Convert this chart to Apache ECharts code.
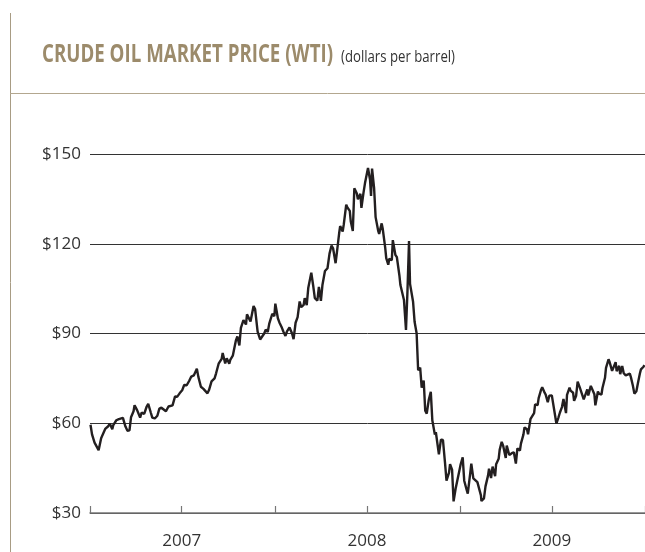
<!DOCTYPE html>
<html>
<head>
<meta charset="utf-8">
<script src="https://cdn.jsdelivr.net/npm/echarts@6/dist/echarts.min.js"></script>
<style>
  html, body { margin: 0; padding: 0; background: #fff; }
  #main { width: 645px; height: 552px; }
</style>
</head>
<body>
<div id="main"></div>
<script>
// WTI spot (date, $/bbl)
let dates = [
  '2007-01-02','2007-01-05','2007-01-10','2007-01-12','2007-01-18','2007-01-23','2007-01-26','2007-01-31',
  '2007-02-06','2007-02-09','2007-02-14','2007-02-16','2007-02-22','2007-02-27','2007-03-02','2007-03-07',
  '2007-03-12','2007-03-16','2007-03-20','2007-03-23','2007-03-28','2007-03-30','2007-04-04','2007-04-10',
  '2007-04-13','2007-04-18','2007-04-23','2007-04-26','2007-05-01','2007-05-04','2007-05-09','2007-05-14',
  '2007-05-18','2007-05-22','2007-05-25','2007-05-31','2007-06-05','2007-06-08','2007-06-13','2007-06-18',
  '2007-06-22','2007-06-27','2007-07-02','2007-07-06','2007-07-11','2007-07-16','2007-07-20','2007-07-25',
  '2007-07-31','2007-08-03','2007-08-08','2007-08-13','2007-08-16','2007-08-21','2007-08-24','2007-08-29',
  '2007-09-04','2007-09-07','2007-09-12','2007-09-18','2007-09-20','2007-09-25','2007-09-28','2007-10-03',
  '2007-10-05','2007-10-10','2007-10-16','2007-10-19','2007-10-23','2007-10-26','2007-10-31','2007-11-05',
  '2007-11-07','2007-11-09','2007-11-14','2007-11-20','2007-11-23','2007-11-28','2007-12-03','2007-12-06',
  '2007-12-11','2007-12-14','2007-12-18','2007-12-21','2007-12-27','2007-12-31',
  '2008-01-02','2008-01-07','2008-01-10','2008-01-15','2008-01-18','2008-01-22','2008-01-25','2008-01-30',
  '2008-02-04','2008-02-07','2008-02-11','2008-02-15','2008-02-19','2008-02-22','2008-02-27','2008-02-29',
  '2008-03-04','2008-03-07','2008-03-13','2008-03-17','2008-03-20','2008-03-25','2008-03-28','2008-04-01',
  '2008-04-04','2008-04-09','2008-04-14','2008-04-18','2008-04-22','2008-04-25','2008-04-30','2008-05-02',
  '2008-05-07','2008-05-09','2008-05-14','2008-05-16','2008-05-21','2008-05-23','2008-05-28','2008-05-30',
  '2008-06-03','2008-06-06','2008-06-11','2008-06-13','2008-06-18','2008-06-20','2008-06-24','2008-06-27',
  '2008-07-03','2008-07-07','2008-07-09','2008-07-11','2008-07-15','2008-07-18','2008-07-23','2008-07-25',
  '2008-07-30','2008-08-01','2008-08-06','2008-08-08','2008-08-12','2008-08-14','2008-08-19','2008-08-21',
  '2008-08-26','2008-08-29','2008-09-03','2008-09-05','2008-09-10','2008-09-12','2008-09-16','2008-09-19',
  '2008-09-22','2008-09-24','2008-09-26','2008-09-30','2008-10-03','2008-10-07','2008-10-10','2008-10-14',
  '2008-10-17','2008-10-21','2008-10-24','2008-10-27','2008-10-31','2008-11-04','2008-11-07','2008-11-12',
  '2008-11-14','2008-11-20','2008-11-24','2008-11-28','2008-12-02','2008-12-05','2008-12-10','2008-12-12',
  '2008-12-16','2008-12-19','2008-12-23','2008-12-26','2008-12-31',
  '2009-01-02','2009-01-06','2009-01-09','2009-01-14','2009-01-16','2009-01-21','2009-01-23','2009-01-27',
  '2009-01-30','2009-02-04','2009-02-06','2009-02-11','2009-02-12','2009-02-17','2009-02-20','2009-02-25',
  '2009-02-27','2009-03-03','2009-03-06','2009-03-11','2009-03-13','2009-03-18','2009-03-20','2009-03-24',
  '2009-03-27','2009-04-01','2009-04-03','2009-04-08','2009-04-13','2009-04-17','2009-04-21','2009-04-24',
  '2009-04-29','2009-05-01','2009-05-06','2009-05-08','2009-05-13','2009-05-15','2009-05-20','2009-05-22',
  '2009-05-27','2009-05-29','2009-06-03','2009-06-05','2009-06-10','2009-06-12','2009-06-16','2009-06-19',
  '2009-06-23','2009-06-26','2009-07-01','2009-07-06','2009-07-10','2009-07-14','2009-07-17','2009-07-21',
  '2009-07-24','2009-07-29','2009-07-31','2009-08-05','2009-08-07','2009-08-12','2009-08-14','2009-08-18',
  '2009-08-21','2009-08-25','2009-08-28','2009-09-02','2009-09-04','2009-09-09','2009-09-11','2009-09-16',
  '2009-09-18','2009-09-23','2009-09-25','2009-09-30','2009-10-02','2009-10-07','2009-10-09','2009-10-14',
  '2009-10-16','2009-10-21','2009-10-23','2009-10-28','2009-10-30','2009-11-04','2009-11-06','2009-11-11',
  '2009-11-13','2009-11-17','2009-11-20','2009-11-24','2009-11-27','2009-12-02','2009-12-04','2009-12-08',
  '2009-12-11','2009-12-15','2009-12-18','2009-12-22','2009-12-24','2009-12-29','2009-12-31'
];
let prices = [
  59.5, 56.3, 53.5, 52.9, 51.0, 55.0, 55.4, 58.1,
  59.0, 59.9, 58.0, 59.4, 61.0, 61.4, 61.6, 61.8,
  58.9, 57.5, 57.6, 62.0, 64.0, 66.0, 64.4, 61.9,
  63.6, 63.1, 65.6, 66.5, 63.6, 61.9, 61.6, 62.5,
  64.9, 65.2, 65.2, 64.0, 65.6, 65.0, 66.0, 69.0,
  68.8, 70.0, 71.0, 72.8, 72.7, 74.2, 75.6, 76.0,
  78.2, 75.5, 72.2, 71.5, 71.0, 70.0, 71.1, 74.0,
  75.0, 76.7, 79.9, 81.5, 83.5, 80.0, 81.7, 79.9,
  81.2, 82.6, 87.6, 89.0, 86.0, 91.9, 94.5, 93.0,
  96.4, 96.3, 94.0, 99.2, 98.2, 90.6, 88.0, 88.3,
  90.0, 91.3, 90.5, 93.3, 96.6, 95.8,
  100.0, 95.1, 93.7, 91.9, 90.6, 89.2, 90.7, 92.0,
  90.0, 88.1, 93.6, 95.5, 100.7, 98.8, 99.6, 101.8,
  99.5, 105.2, 110.3, 105.7, 101.8, 101.0, 105.6, 100.9,
  106.2, 110.9, 111.8, 116.7, 119.4, 118.5, 113.5, 116.3,
  123.5, 125.9, 124.1, 126.3, 133.1, 132.2, 131.0, 127.4,
  124.3, 138.5, 136.8, 134.9, 136.7, 132.0, 136.9, 140.2,
  145.3, 141.4, 136.0, 145.1, 138.7, 128.9, 124.4, 123.3,
  126.8, 125.1, 118.6, 115.2, 113.0, 115.0, 114.5, 121.2,
  116.3, 115.5, 109.4, 106.2, 102.6, 101.2, 91.2, 104.5,
  120.9, 106.6, 106.9, 100.6, 93.9, 90.1, 77.7, 78.6,
  71.9, 74.3, 64.2, 63.2, 67.8, 70.5, 61.0, 56.2,
  57.0, 49.6, 54.5, 54.4, 46.9, 40.8, 43.5, 46.3,
  44.5, 33.9, 38.1, 37.7, 44.6,
  46.3, 48.6, 40.8, 37.6, 36.5, 43.5, 46.5, 41.6,
  41.7, 40.3, 40.2, 35.9, 34.0, 34.9, 38.9, 42.5,
  44.8, 41.7, 45.5, 42.3, 46.3, 48.1, 51.1, 53.8,
  52.4, 48.4, 52.5, 49.4, 50.0, 50.3, 46.5, 51.6,
  50.9, 53.2, 56.3, 58.6, 58.0, 56.3, 61.5, 61.7,
  63.4, 66.3, 66.1, 68.4, 71.3, 72.0, 70.5, 69.5,
  67.0, 69.2, 69.3, 64.1, 59.9, 61.9, 63.6, 65.4,
  68.1, 63.4, 69.5, 71.9, 70.9, 70.2, 67.5, 69.2,
  73.9, 72.1, 72.7, 68.0, 68.0, 71.3, 69.3, 72.5,
  72.0, 69.7, 66.0, 70.6, 69.9, 69.6, 71.8, 75.2,
  78.5, 81.4, 80.5, 77.5, 77.0, 80.4, 77.4, 79.2,
  76.4, 79.1, 76.7, 76.0, 76.0, 76.6, 75.5, 72.6,
  69.9, 70.7, 73.4, 76.7, 78.0, 78.9, 79.4
];
// half-year tick marks, year labels sit on the July ticks
let tickDates = ['2007-01-01','2007-07-01','2008-01-01','2008-07-01','2009-01-01','2009-07-01','2010-01-01'];
let labelDates = ['2007-07-01','2008-07-01','2009-07-01'];
let yTicks = [30, 60, 90, 120, 150];

let titleText = 'CRUDE OIL MARKET PRICE (WTI)';
let subText = '(dollars per barrel)';
let titleFont = 'bold 25px "Open Sans"';
let subFont = '17px "Open Sans"';

// the original uses a condensed face; squeeze the text to the same width
function textWidth(str, font) {
  let ctx = document.createElement('canvas').getContext('2d');
  ctx.font = font;
  return ctx.measureText(str).width;
}
let titleScale = 291 / textWidth(titleText, titleFont);
let subScale = 114 / textWidth(subText, subFont);

let myChart = echarts.init(document.getElementById('main'));

// value axis over timestamps, so custom tick positions can be used
let seriesData = [];
for (let i = 0; i < dates.length; i++) {
  seriesData.push([Date.parse(dates[i]), prices[i]]);
}
let tickTs = tickDates.map(function (d) { return Date.parse(d); });
let labelTs = labelDates.map(function (d) { return Date.parse(d); });

let option = {
  animation: false,
  graphic: [
    { type: 'line', shape: { x1: 10.5, y1: 13, x2: 10.5, y2: 552 }, style: { stroke: '#a89c84', lineWidth: 1 } },
    { type: 'line', shape: { x1: 10, y1: 93.5, x2: 645, y2: 93.5 }, style: { stroke: '#b3a78f', lineWidth: 1 } },
    {
      type: 'text', x: 42, y: 67, scaleX: titleScale,
      style: { text: titleText, font: titleFont, fill: '#9c8b6b', verticalAlign: 'bottom' }
    },
    {
      type: 'text', x: 341, y: 66, scaleX: subScale,
      style: { text: subText, font: subFont, fill: '#333', verticalAlign: 'bottom' }
    }
  ],
  grid: { left: 90, right: 0, top: 154, bottom: 39 },
  xAxis: {
    type: 'value',
    min: tickTs[0],
    max: tickTs[tickTs.length - 1],
    axisLine: { show: true, lineStyle: { color: '#777', width: 1.5 } },
    axisTick: { show: true, inside: true, length: 7, customValues: tickTs, lineStyle: { color: '#777', width: 1.2 } },
    axisLabel: {
      customValues: labelTs,
      margin: 20,
      color: '#333',
      fontSize: 17,
      fontFamily: '"Open Sans"',
      formatter: function (v) { return new Date(v).getUTCFullYear() + ''; }
    },
    splitLine: { show: false }
  },
  yAxis: {
    type: 'value',
    min: 30,
    max: 150,
    interval: 30,
    axisLine: { show: false },
    axisTick: { show: false },
    axisLabel: {
      margin: 9,
      color: '#333',
      fontSize: 17,
      fontFamily: '"Open Sans"',
      formatter: function (v) { return yTicks.indexOf(v) >= 0 ? '$' + v : ''; }
    },
    splitLine: { show: true, lineStyle: { color: '#333', width: 1 } }
  },
  series: [{
    type: 'line',
    data: seriesData,
    showSymbol: false,
    lineStyle: { color: '#231f20', width: 2.4 },
    z: 3
  }]
};

myChart.setOption(option);
</script>
</body>
</html>
